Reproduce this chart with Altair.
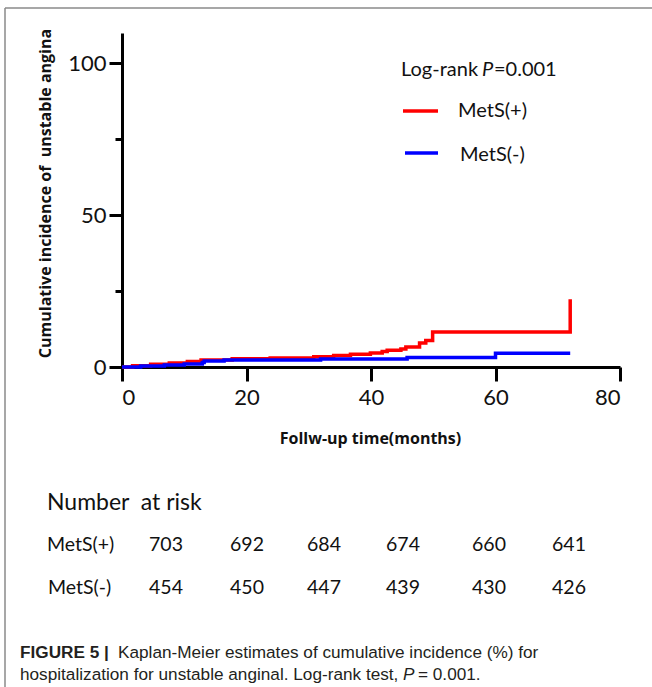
import altair as alt
import pandas as pd

# ---- data ----
months_plus = [0, 1.7, 4.6, 7.6, 10.5, 12.7, 17.7, 23.8, 30.8, 34, 36.7, 39.9, 41.8, 42.6, 44.8, 45.6, 47.8, 48.8, 49.9, 72, 72]
inc_plus = [0, 0.4, 0.9, 1.3, 1.8, 2.3, 2.7, 3.0, 3.4, 3.8, 4.2, 4.6, 5.1, 5.5, 5.9, 6.6, 7.9, 8.7, 11.5, 11.5, 22.3]
months_minus = [0, 3, 6.8, 10, 12.9, 13.2, 16.4, 31.9, 45.8, 60, 72]
inc_minus = [0, 0.3, 0.7, 1.0, 1.5, 2.0, 2.3, 2.6, 3.1, 4.5, 4.5]
groups = ["MetS(+)", "MetS(-)"]
group_colors = ["#ff0000", "#0000ff"]
x_ticks = [0, 20, 40, 60, 80]
y_ticks = [0, 25, 50, 75, 100]
risk_plus = [703, 692, 684, 674, 660, 641]
risk_minus = [454, 450, 447, 439, 430, 426]

# ---- layout (pixels) ----
L, T, W, H = 122, 33, 498, 334
FONT = "Lato"
TITLE_FONT = "Open Sans"
CAP_FONT = "Liberation Sans"

rows = []
for m, v in zip(months_plus, inc_plus):
    rows.append({"month": m, "inc": v, "group": groups[0], "ord": 0})
for m, v in zip(months_minus, inc_minus):
    rows.append({"month": m, "inc": v, "group": groups[1], "ord": 1})
df = pd.DataFrame(rows)

color = alt.Color("group:N", scale=alt.Scale(domain=groups, range=group_colors), legend=None)

x_enc = alt.X(
    "month:Q",
    scale=alt.Scale(domain=[0, 80], nice=False, zero=False),
    axis=alt.Axis(
        values=x_ticks, title="Follw-up time(months)", grid=False,
        domainColor="black", domainWidth=3, tickColor="black", tickWidth=3, tickSize=14,
        labelFont=FONT, labelFontSize=22, labelColor="#111", labelPadding=6,
        titleFont=TITLE_FONT, titleFontSize=16, titleFontWeight="bold", titleColor="#111",
        titleX=248, titleY=71, titleBaseline="middle", titleAlign="center",
    ),
)
y_enc = alt.Y(
    "inc:Q",
    scale=alt.Scale(domain=[0, 110], nice=False),
    axis=alt.Axis(
        values=y_ticks, title="Cumulative incidence of\u00a0 unstable angina", grid=False,
        labelExpr="datum.value % 50 == 0 ? datum.label : ''",
        domainColor="black", domainWidth=3, tickColor="black", tickWidth=3,
        tickSize={"condition": {"test": "datum.value % 50 === 0", "value": 13}, "value": 7},
        labelFont=FONT, labelFontSize=22, labelColor="#111", labelPadding=3,
        titleFont=TITLE_FONT, titleFontSize=16, titleFontWeight="bold", titleColor="#111",
        titleX=-77, titleY=160, titleAngle=-90, titleBaseline="middle", titleAlign="center",
    ),
)

lines = alt.Chart(df).mark_line(interpolate="step-after", strokeWidth=3.5, clip=False).encode(
    x=x_enc, y=y_enc, color=color, detail="group:N", order="ord:Q"
)

one = pd.DataFrame({"k": [0]})


def txt(s, px, py, size=19, weight="normal", style="normal", font=FONT, align="left", col="#111"):
    return alt.Chart(one).mark_text(
        text=s, font=font, fontSize=size, fontWeight=weight, fontStyle=style,
        align=align, baseline="middle", color=col,
    ).encode(x=alt.value(px - L), y=alt.value(py - T))


def rule(x1, x2, y1, y2, col, w):
    return alt.Chart(one).mark_rule(color=col, strokeWidth=w).encode(
        x=alt.value(x1 - L), x2=alt.value(x2 - L), y=alt.value(y1 - T), y2=alt.value(y2 - T)
    )


layers = [lines]

# legend block
layers += [
    txt("Log-rank", 401, 70, size=20),
    txt("P", 482, 70, size=20, style="italic"),
    txt("=0.001", 494, 70, size=20),
    rule(403, 438, 111, 111, group_colors[0], 3.5),
    txt(groups[0], 458, 111, size=20),
    rule(405, 438, 153, 153, group_colors[1], 3.5),
    txt(groups[1], 460, 155, size=20),
]

# number at risk table
col_x = [166, 247, 324, 403, 489, 569]
layers.append(txt("Number\u00a0 at risk", 47, 503, size=23))
layers.append(txt(groups[0], 47, 545, size=19.5))
layers.append(txt(groups[1], 48, 588, size=19.5))
for cx, a, b in zip(col_x, risk_plus, risk_minus):
    layers.append(txt(str(a), cx, 545, size=19.5, align="center"))
    layers.append(txt(str(b), cx, 588, size=19.5, align="center"))

# caption
cap_col = "#231f20"
CS = 17.2
layers += [
    txt("FIGURE 5 |", 20, 653, size=CS, weight="bold", font=CAP_FONT, col=cap_col),
    txt("Kaplan-Meier estimates of cumulative incidence (%) for", 118, 653, size=CS, font=CAP_FONT, col=cap_col),
    txt("hospitalization for unstable anginal. Log-rank test,", 20, 675, size=CS, font=CAP_FONT, col=cap_col),
    txt("P", 403, 675, size=CS, style="italic", font=CAP_FONT, col=cap_col),
    txt("= 0.001.", 418, 675, size=CS, font=CAP_FONT, col=cap_col),
]

# frame lines
layers += [
    rule(5, 652, 8, 8, "#8a8a8a", 1.5),
    rule(5, 5, 8, 687, "#8a8a8a", 1.5),
]

chart = alt.layer(*layers).properties(
    width=W, height=H,
    autosize=alt.AutoSizeParams(type="none"),
    padding={"left": L, "top": T, "right": 652 - L - W, "bottom": 687 - T - H},
    background="white",
).configure_view(stroke=None)

chart.save("out.html", embed_options={"renderer": "svg", "actions": False})
